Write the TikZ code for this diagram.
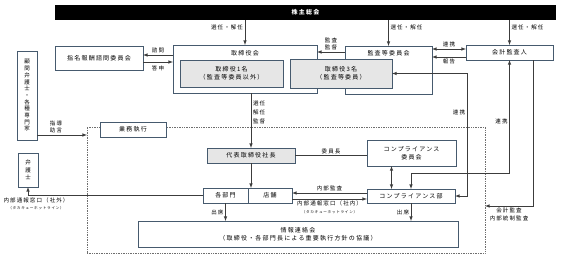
\documentclass[tikz,border=0pt]{standalone}
\usepackage{fontspec}
\usetikzlibrary{calc}
\newfontfamily\jp[LetterSpace=20]{Noto Sans CJK JP}
\definecolor{boxc}{RGB}{70,90,110}
\definecolor{linec}{RGB}{60,60,60}
\definecolor{fillc}{RGB}{230,230,230}
\definecolor{dotc}{RGB}{110,110,110}

\begin{document}
\begin{tikzpicture}[x=1pt,y=-1pt,every node/.style={outer sep=0pt,inner sep=0pt}]

	\tikzstyle{box}=[draw=boxc,fill=white,line width=0.8pt,font=\jp\fontsize{6}{7.6}\selectfont,align=center]
	\tikzstyle{shaded}=[box,fill=fillc]
	\tikzstyle{tag}=[font=\jp\fontsize{5.5}{7.5}\selectfont,align=center,inner sep=2pt]
	\tikzstyle{wire}=[line width=0.6pt,draw=linec]
	\tikzstyle{link}=[wire,-latex]
	\tikzstyle{twoway}=[wire,latex-latex]

	\useasboundingbox (0,0) rectangle (561,260);

	% execution area
	\node (shikko) at (286,190) [draw=dotc,densely dotted,line width=0.7pt,minimum width=398pt,minimum height=126pt] {};

	\node (soukai) at (305.5,12.5) [fill=black,minimum width=501pt,minimum height=15pt,text=white,font=\jp\bfseries\fontsize{6}{7}\selectfont] {株主総会};

	\node (shimei) at (99,58) [box,minimum width=88pt,minimum height=24pt] {指名報酬諮問委員会};
	\node (torikai) at (245,69) [box,minimum width=144pt,minimum height=48pt] {};
	\node (torikaitxt) at ($(torikai.north)+(0,8)$) [box,draw=none,fill=none] {取締役会};
	\node (kansa) at (388.5,70) [box,minimum width=87pt,minimum height=48pt] {};
	\node (kansatxt) at ($(kansa.north)+(0,7)$) [box,draw=none,fill=none] {監査等委員会};
	\node (dir1) at (231.5,73.5) [shaded,minimum width=103pt,minimum height=27pt] {取締役1名\\（監査等委員以外）};
	\node (dir3) at (341,73.5) [shaded,minimum width=102pt,minimum height=29pt] {取締役3名\\（監査等委員）};
	\node (kaikei) at (509.5,52.5) [box,minimum width=87pt,minimum height=15pt] {会計監査人};

	\node (komon) at (27,95.5) [box,minimum width=20pt,minimum height=89pt,font=\jp\fontsize{5.5}{6.7}\selectfont] {顧\\問\\弁\\護\\士\\・\\各\\種\\専\\門\\家};
	\node (bengoshi) at (28,170) [box,minimum width=20pt,minimum height=34pt,font=\jp\fontsize{5.5}{7.5}\selectfont] {弁\\護\\士};

	\node (gyomu) at (133,129.5) [box,minimum width=66pt,minimum height=15pt] {業務執行};
	\node (daihyo) at (251,155.5) [shaded,minimum width=88pt,minimum height=15pt] {代表取締役社長};
	\node (compiinkai) at (411.5,153) [box,minimum width=89pt,minimum height=26pt] {コンプライアンス\\委員会};
	\node (compbu) at (411,196) [box,minimum width=88pt,minimum height=14pt] {コンプライアンス部};
	\node (bumon) at (225.5,195.5) [box,minimum width=45pt,minimum height=15pt] {各部門};
	\node (tenpo) at (270,195.5) [box,minimum width=44pt,minimum height=15pt] {店舗};
	\node (joho) at (298,234) [box,minimum width=320pt,minimum height=26pt] {情報連絡会\\（取締役・各部門長による重要執行方針の協議）};

	% appointment
	\draw [link] (soukai.south -| torikai.north) -- (torikai.north) node[tag,pos=.3,left] {選任・解任};
	\draw [link] (soukai.south -| kansa.north) -- (kansa.north) node[tag,pos=.3,right] {選任・解任};
	\draw [link] (soukai.south -| kaikei.north) -- (kaikei.north) node[tag,pos=.3,right] {選任・解任};

	\draw [link] ($(torikai.west)+(0,-14)$) coordinate (q1) -- (q1 -| shimei.east) node[tag,midway,above] {諮問};
	\draw [link] ($(shimei.east)+(0,4)$) coordinate (q2) -- (q2 -| torikai.west) node[tag,midway,below,yshift=-2pt] {答申};
	\draw [link] ($(kansa.west)+(0,-18)$) coordinate (q3) -- (q3 -| torikai.east) node[tag,midway,above] {監査\\監督};
	\draw [twoway] ($(kaikei.west)+(0,-3.5)$) coordinate (q4) -- (q4 -| kansa.east) node[tag,midway,above] {連携};
	\draw [link] ($(kaikei.west)+(0,4.5)$) coordinate (q5) -- (q5 -| kansa.east) node[tag,midway,below] {報告};

	\draw [twoway] (compbu.east) -- ++(12,0) coordinate (q6) |- (dir3.east) node[tag,pos=.34,left] {連携};
	\draw [twoway] (kaikei.south) -- node[tag,pos=.54,left] {連携} ++(0,113) coordinate (q7) -| (compbu.north);
	\draw [link] ($(kaikei.south east)+(-20,0)$) |- ($(shikko.east)+(0,16)$) node[tag,pos=.75,below] {会計監査\\内部統制監査};

	\draw [link] ($(komon.south east)+(0,-5)$) coordinate (q8) -- (q8 -| shikko.west) node[tag,pos=.38,above] {指導\\助言};

	\draw [link] (torikai.south -| daihyo.north) -- (daihyo.north) node[tag,pos=.35,right,font=\jp\fontsize{5.5}{9}\selectfont] {選任\\解任\\監督};
	\draw [wire] (daihyo.east) -- (daihyo.east -| compiinkai.west) node[tag,midway,above] {委員長};
	\draw [link] (daihyo.south) -- (daihyo.south |- tenpo.north);
	\draw [twoway] ($(compiinkai.south)+(-20,0)$) coordinate (q9) -- (q9 |- compbu.north);

	\draw [link] ($(compbu.west)+(0,-3)$) coordinate (q10) -- (q10 -| tenpo.east) node[tag,midway,above] {内部監査};
	\draw [link] ($(tenpo.east)+(0,3.5)$) coordinate (q11) -- (q11 -| compbu.west) node[tag,midway,below] {内部通報窓口（社内）\\{\fontsize{3.6}{4.5}\selectfont （タカキューホットライン）}};
	\draw [link] (bumon.west) -| (bengoshi.south) node[tag,pos=.477,below] {内部通報窓口（社外）\\{\fontsize{3.6}{4.5}\selectfont （タカキューホットライン）}};

	\draw [link] (bumon.south) -- (bumon.south |- joho.north) node[tag,midway,left] {出席};
	\draw [link] (compbu.south) -- (compbu.south |- joho.north) node[tag,midway,left] {出席};

\end{tikzpicture}
\end{document}
